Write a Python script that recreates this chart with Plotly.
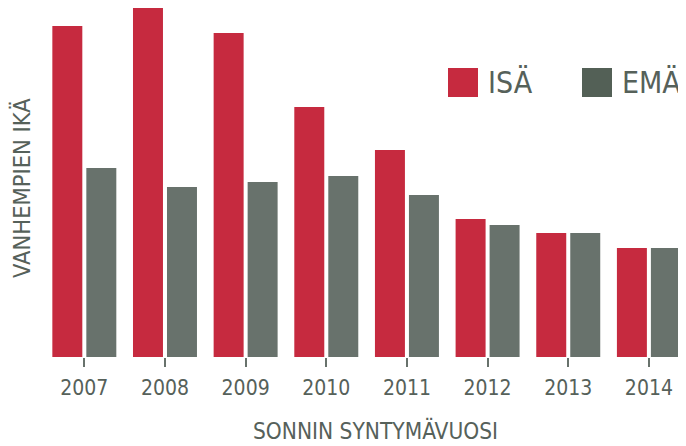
import plotly.graph_objects as go

years = ["2007", "2008", "2009", "2010", "2011", "2012", "2013", "2014"]
isa = [331, 350, 324, 250, 207, 138, 124, 109]
ema = [189, 170, 175, 181, 162, 132, 124, 109]

RED = "#c62a3f"
GRAY = "#68726c"
LEG_GRAY = "#536056"
TXT = "#56615a"
FONT = "DejaVu Sans Condensed, Liberation Sans, sans-serif"

fig = go.Figure()
fig.add_bar(x=years, y=isa, name="ISÄ", marker_color=RED, marker_line_width=0)
fig.add_bar(x=years, y=ema, name="EMÄ", marker_color=GRAY, marker_line_width=0)

# page body has an 8px default margin, so the figure is drawn offset by 8px
OFF = 8
W, H = 686 - OFF, 446 - OFF
L, R, T, B = 44 - OFF, 0, 0, 446 - 357
PW, PH = W - L - R, H - T - B


def px(refx):
    return (refx - OFF - L) / PW


def py(refy):
    return (H - B - (refy - OFF)) / PH


fig.update_layout(
    width=W, height=H,
    margin=dict(l=L, r=R, t=T, b=B, pad=0, autoexpand=False),
    paper_bgcolor="white", plot_bgcolor="white",
    barmode="group", bargap=0.157, bargroupgap=0.118,
    showlegend=False,
    font=dict(family=FONT, color=TXT),
    xaxis=dict(
        type="category", range=[-0.5, 7.46], automargin=False,
        showgrid=False, zeroline=False, showline=False,
        ticks="outside", ticklen=9, tickwidth=2, tickcolor=GRAY,
        ticklabelstandoff=3,
        tickfont=dict(family=FONT, size=21, color=TXT),
    ),
    yaxis=dict(
        range=[0, PH], automargin=False, showgrid=False, zeroline=False, showline=False,
        showticklabels=False, ticks="",
    ),
)

# axis titles
fig.add_annotation(text="SONNIN SYNTYMÄVUOSI", xref="paper", yref="paper",
                   x=px(375), y=py(430), xanchor="center", yanchor="middle",
                   showarrow=False, font=dict(family=FONT, size=22.5, color=TXT))
fig.add_annotation(text="VANHEMPIEN IKÄ", xref="paper", yref="paper",
                   x=px(22), y=py(188), xanchor="center", yanchor="middle",
                   textangle=-90, showarrow=False,
                   font=dict(family=FONT, size=23.5, color=TXT))

# custom legend (reference pixel positions)
legend_items = [("ISÄ", RED, 448), ("EMÄ", LEG_GRAY, 582)]
for label, col, x0 in legend_items:
    fig.add_shape(type="rect", xref="paper", yref="paper",
                  x0=px(x0), x1=px(x0 + 30), y0=py(97), y1=py(68),
                  fillcolor=col, line_width=0, layer="above")
    fig.add_annotation(text=label, xref="paper", yref="paper",
                       x=px(x0 + 38), y=py(82.5),
                       xanchor="left", yanchor="middle", showarrow=False,
                       font=dict(family=FONT, size=30, color=TXT))

fig.write_html("out.html")
